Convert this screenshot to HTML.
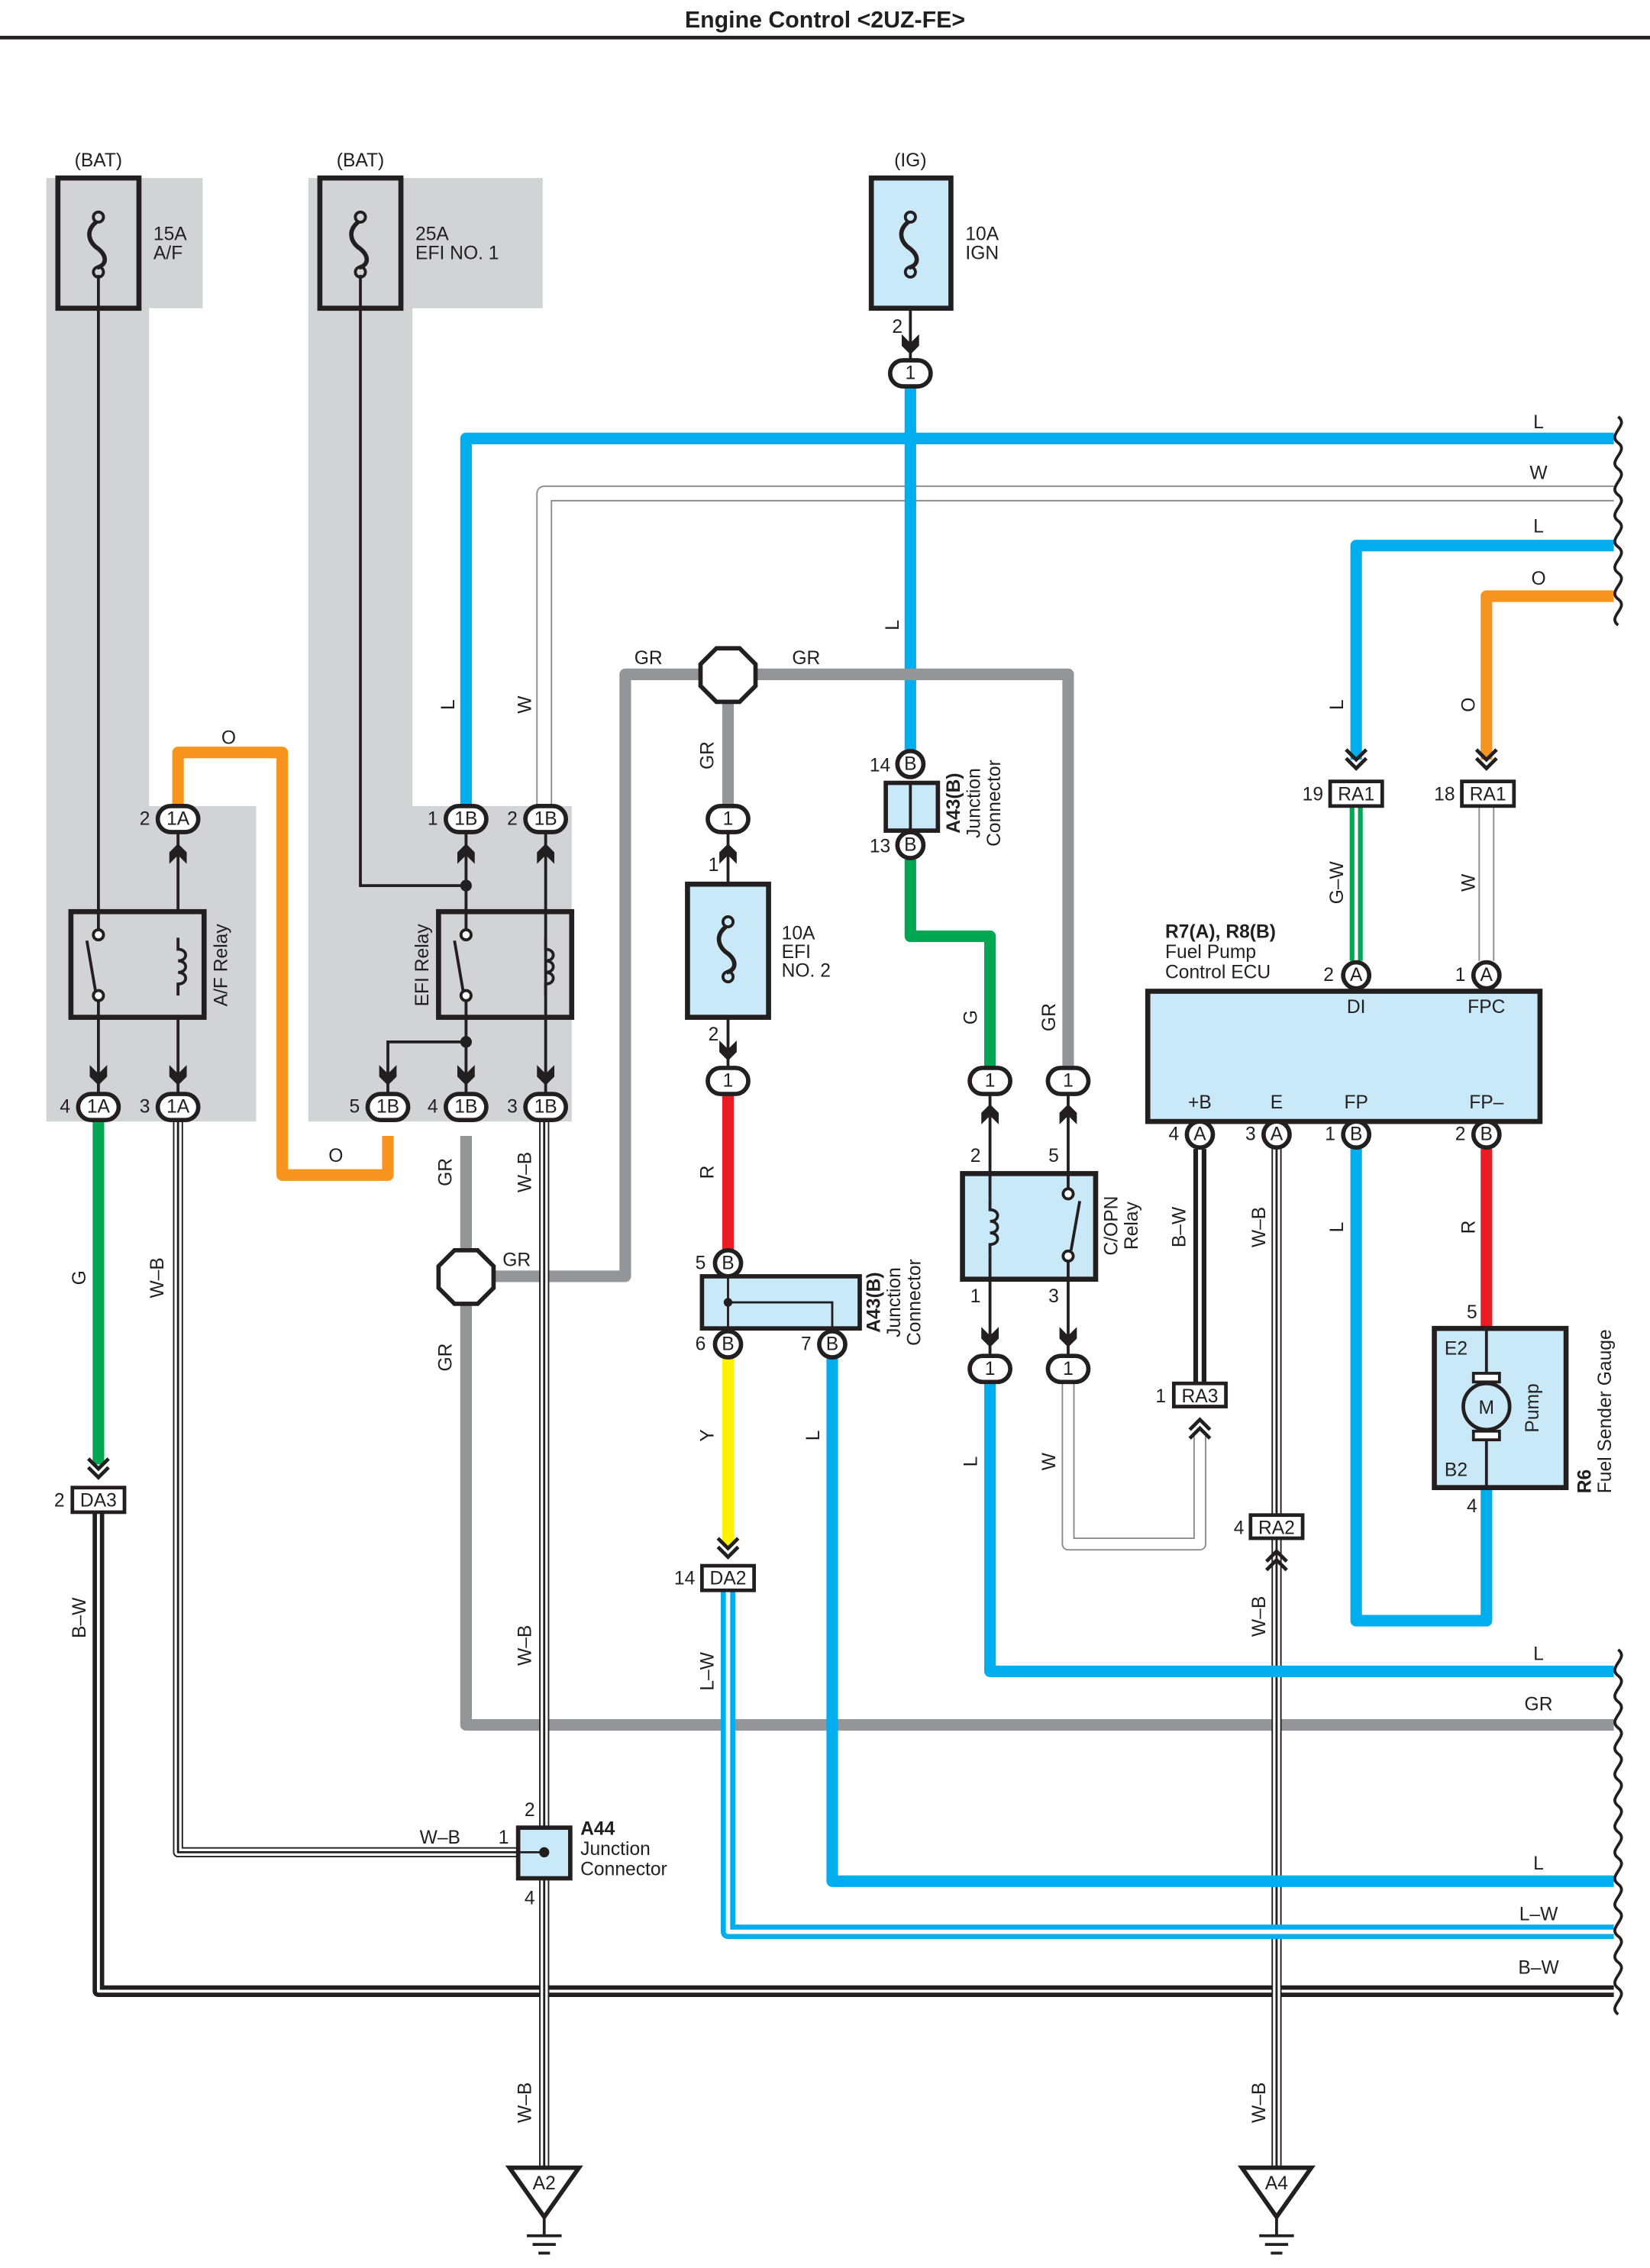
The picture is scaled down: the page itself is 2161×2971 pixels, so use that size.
<!DOCTYPE html>
<html><head><meta charset="utf-8"><style>
html,body{margin:0;padding:0;background:#fff}
svg{display:block}
text{font-family:"Liberation Sans",sans-serif;font-size:13px;fill:#231f20}
.b{font-weight:bold}
.c{text-anchor:middle}
.wire{fill:none;stroke-linejoin:round}
</style></head><body>
<svg width="2161" height="2971" viewBox="0 0 1140 1567.3" xmlns="http://www.w3.org/2000/svg">
<defs>
<g id="cd"><path d="M-6,-11 L0,-5 L6,-11 L6,-3 L0,3 L-6,-3Z" fill="#231f20"/></g>
<g id="cu"><path d="M-6,11 L0,5 L6,11 L6,3 L0,-3 L-6,3Z" fill="#231f20"/></g>
<g id="dd"><path d="M-7,-12 L0,-5 L7,-12 M-7,-6 L0,1 L7,-6" fill="none" stroke="#231f20" stroke-width="2.5"/></g>
<g id="du"><path d="M-7,12 L0,5 L7,12 M-7,6 L0,-1 L7,6" fill="none" stroke="#231f20" stroke-width="2.5"/></g>
<g id="ov"><rect x="-14" y="-9" width="28" height="18" rx="9" fill="#fff" stroke="#231f20" stroke-width="3"/></g>
<g id="fuse"><circle cx="0" cy="-20" r="3.5" fill="none" stroke="#231f20" stroke-width="2"/><circle cx="0" cy="18" r="3.5" fill="none" stroke="#231f20" stroke-width="2"/><path d="M-1,-17 C-10,-10 -6,-2 0,2 C6,7 6,13 -1,15" fill="none" stroke="#231f20" stroke-width="3"/></g>
<g id="coil"><path d="M0,0 V8 c7,0 7,8 0,8 c7,0 7,8 0,8 c7,0 7,8 0,8 V40" fill="none" stroke="#231f20" stroke-width="2"/></g>
</defs>

<text x="570" y="19" class="b c" style="font-size:16px">Engine Control &lt;2UZ-FE&gt;</text>
<line x1="0" y1="26" x2="1140" y2="26" stroke="#231f20" stroke-width="2.5"/>

<path d="M32,123 H140 V213 H103 V557 H177 V775 H32Z" fill="#d1d3d4"/>
<path d="M213,123 H375 V213 H285 V557 H395 V775 H213Z" fill="#d1d3d4"/>

<path class="wire" d="M322,556 V303 H1115" stroke="#00aeef" stroke-width="8"/>
<path class="wire" d="M376,556 V341 H1115" stroke="#8a8c8e" stroke-width="11"/>
<path class="wire" d="M376,556 V341 H1115" stroke="#fff" stroke-width="9"/>
<path class="wire" d="M937,525 V377 H1115" stroke="#00aeef" stroke-width="8"/>
<path class="wire" d="M1027,525 V412 H1115" stroke="#f7941d" stroke-width="8"/>
<path class="wire" d="M629,268 V518" stroke="#00aeef" stroke-width="8"/>
<path class="wire" d="M123,556 V520 H195 V812 H268 V785" stroke="#f7941d" stroke-width="8"/>
<path class="wire" d="M322,785 V1192 H1115" stroke="#939598" stroke-width="8"/>
<path class="wire" d="M322,882 H432 V466 H738 V737" stroke="#939598" stroke-width="8"/>
<path class="wire" d="M503,466 V556" stroke="#939598" stroke-width="8"/>
<path class="wire" d="M68,775 V1012" stroke="#00a651" stroke-width="8"/>
<path class="wire" d="M68,1045 V1376 H1115" stroke="#231f20" stroke-width="8"/>
<path class="wire" d="M68,1045 V1376 H1115" stroke="#fff" stroke-width="2"/>
<g class="wire">
<path class="wire" d="M123,775 V1280 H358" stroke="#231f20" stroke-width="7"/>
<path class="wire" d="M123,775 V1280 H358" stroke="#fff" stroke-width="5"/>
<path class="wire" d="M123,775 V1280 H358" stroke="#231f20" stroke-width="1.5"/>
<path class="wire" d="M376,775 V1500" stroke="#231f20" stroke-width="7"/>
<path class="wire" d="M376,775 V1500" stroke="#fff" stroke-width="5"/>
<path class="wire" d="M376,775 V1500" stroke="#231f20" stroke-width="1.5"/>
<path class="wire" d="M882,794 V1500" stroke="#231f20" stroke-width="7"/>
<path class="wire" d="M882,794 V1500" stroke="#fff" stroke-width="5"/>
<path class="wire" d="M882,794 V1500" stroke="#231f20" stroke-width="1.5"/>
</g>
<path class="wire" d="M629,594 V647 H684 V737" stroke="#00a651" stroke-width="8"/>
<path class="wire" d="M503,757 V864" stroke="#ed1c24" stroke-width="8"/>
<path class="wire" d="M503,939 V1068" stroke="#fff200" stroke-width="8"/>
<path class="wire" d="M503,1099 V1335 H1115" stroke="#00aeef" stroke-width="10"/>
<path class="wire" d="M503,1099 V1335 H1115" stroke="#fff" stroke-width="3"/>
<path class="wire" d="M575,939 V1300 H1115" stroke="#00aeef" stroke-width="8"/>
<path class="wire" d="M684,956 V1155 H1115" stroke="#00aeef" stroke-width="8"/>
<path class="wire" d="M738,956 V1067 H829 V990" stroke="#8a8c8e" stroke-width="9"/>
<path class="wire" d="M738,956 V1067 H829 V990" stroke="#fff" stroke-width="7"/>
<path class="wire" d="M829,794 V956" stroke="#231f20" stroke-width="9"/>
<path class="wire" d="M829,794 V956" stroke="#fff" stroke-width="2.5"/>
<path class="wire" d="M937,557 V664" stroke="#00a651" stroke-width="9"/>
<path class="wire" d="M937,557 V664" stroke="#fff" stroke-width="2.5"/>
<path class="wire" d="M1027,557 V664" stroke="#8a8c8e" stroke-width="11"/>
<path class="wire" d="M1027,557 V664" stroke="#fff" stroke-width="9"/>
<path class="wire" d="M937,794 V1120 H1027 V1028" stroke="#00aeef" stroke-width="8"/>
<path class="wire" d="M1027,794 V918" stroke="#ed1c24" stroke-width="8"/>

<g stroke="#231f20" stroke-width="2" fill="none">
<path d="M68,190 V643 M68,688 V755"/>
<path d="M123,576 V630 M123,703 V755"/>
<path d="M249,190 V612 H322 M322,576 V643 M322,688 V755 M322,720 H268 V755 M377,576 V755"/>
<path d="M629,190 V248"/>
<path d="M503,576 V611 M503,703 V737"/>
<path d="M684,757 V811 M684,884 V936 M738,757 V811 M738,884 V936"/>
</g>
<circle cx="322" cy="612" r="4" fill="#231f20"/>
<circle cx="322" cy="720" r="4" fill="#231f20"/>

<rect x="40" y="123" width="56" height="90" fill="none" stroke="#231f20" stroke-width="3.5"/>
<use href="#fuse" x="68" y="170"/>
<text x="68" y="115" class="c">(BAT)</text>
<text x="106" y="166">15A</text><text x="106" y="179">A/F</text>
<rect x="221" y="123" width="56" height="90" fill="none" stroke="#231f20" stroke-width="3.5"/>
<use href="#fuse" x="249" y="170"/>
<text x="249" y="115" class="c">(BAT)</text>
<text x="287" y="166">25A</text><text x="287" y="179">EFI NO. 1</text>
<rect x="602" y="123" width="55" height="90" fill="#c9e8f8" stroke="#231f20" stroke-width="3.5"/>
<use href="#fuse" x="629" y="170"/>
<text x="629" y="115" class="c">(IG)</text>
<text x="667" y="166">10A</text><text x="667" y="179">IGN</text>
<rect x="475" y="611" width="56" height="92" fill="#c9e8f8" stroke="#231f20" stroke-width="3.5"/>
<use href="#fuse" x="503" y="657"/>
<text x="540" y="649">10A</text><text x="540" y="662">EFI</text><text x="540" y="675">NO. 2</text>

<rect x="49" y="630" width="92" height="73" fill="none" stroke="#231f20" stroke-width="3.5"/>
<circle cx="68" cy="646" r="3.5" fill="#fff" stroke="#231f20" stroke-width="2"/>
<circle cx="68" cy="688" r="3.5" fill="#fff" stroke="#231f20" stroke-width="2"/>
<line x1="60" y1="650" x2="66" y2="685" stroke="#231f20" stroke-width="2"/>
<use href="#coil" x="123" y="648"/>
<text transform="translate(157,667) rotate(-90)" class="c">A/F Relay</text>
<rect x="303" y="630" width="92" height="73" fill="none" stroke="#231f20" stroke-width="3.5"/>
<circle cx="322" cy="646" r="3.5" fill="#fff" stroke="#231f20" stroke-width="2"/>
<circle cx="322" cy="688" r="3.5" fill="#fff" stroke="#231f20" stroke-width="2"/>
<line x1="314" y1="650" x2="320" y2="685" stroke="#231f20" stroke-width="2"/>
<use href="#coil" x="377" y="648"/>
<text transform="translate(296,667) rotate(-90)" class="c">EFI Relay</text>
<rect x="665" y="811" width="92" height="73" fill="#c9e8f8" stroke="#231f20" stroke-width="3.5"/>
<use href="#coil" x="684" y="828"/>
<circle cx="738" cy="825" r="3.5" fill="#fff" stroke="#231f20" stroke-width="2"/>
<circle cx="738" cy="868" r="3.5" fill="#fff" stroke="#231f20" stroke-width="2"/>
<line x1="746" y1="830" x2="740" y2="864" stroke="#231f20" stroke-width="2"/>
<line x1="684" y1="811" x2="684" y2="828" stroke="#231f20" stroke-width="2"/>
<line x1="684" y1="868" x2="684" y2="884" stroke="#231f20" stroke-width="2"/>
<line x1="738" y1="811" x2="738" y2="821" stroke="#231f20" stroke-width="2"/>
<line x1="738" y1="872" x2="738" y2="884" stroke="#231f20" stroke-width="2"/>
<text transform="translate(772,847) rotate(-90)" class="c">C/OPN</text>
<text transform="translate(786,847) rotate(-90)" class="c">Relay</text>

<use href="#cu" x="123" y="586"/>
<use href="#cd" x="68" y="747"/><use href="#cd" x="123" y="747"/>
<use href="#cu" x="322" y="586"/><use href="#cu" x="377" y="586"/>
<use href="#cd" x="268" y="747"/><use href="#cd" x="322" y="747"/><use href="#cd" x="377" y="747"/>
<use href="#cd" x="629" y="242"/>
<use href="#cu" x="503" y="586"/><use href="#cd" x="503" y="730"/>
<use href="#cu" x="684" y="766"/><use href="#cu" x="738" y="766"/>
<use href="#cd" x="684" y="928"/><use href="#cd" x="738" y="928"/>
<use href="#dd" x="68" y="1020"/>
<use href="#dd" x="503" y="1075"/>
<use href="#dd" x="937" y="530"/><use href="#dd" x="1027" y="530"/>
<use href="#du" x="829" y="982"/>
<use href="#du" x="882" y="1073"/>

<g>
<use href="#ov" x="123" y="566"/><text x="123" y="570" class="c">1A</text><text x="100" y="570" class="c">2</text>
<use href="#ov" x="68" y="765"/><text x="68" y="769" class="c">1A</text><text x="45" y="769" class="c">4</text>
<use href="#ov" x="123" y="765"/><text x="123" y="769" class="c">1A</text><text x="100" y="769" class="c">3</text>
<use href="#ov" x="322" y="566"/><text x="322" y="570" class="c">1B</text><text x="299" y="570" class="c">1</text>
<use href="#ov" x="377" y="566"/><text x="377" y="570" class="c">1B</text><text x="354" y="570" class="c">2</text>
<use href="#ov" x="268" y="765"/><text x="268" y="769" class="c">1B</text><text x="245" y="769" class="c">5</text>
<use href="#ov" x="322" y="765"/><text x="322" y="769" class="c">1B</text><text x="299" y="769" class="c">4</text>
<use href="#ov" x="377" y="765"/><text x="377" y="769" class="c">1B</text><text x="354" y="769" class="c">3</text>
<use href="#ov" x="629" y="258"/><text x="629" y="262" class="c">1</text><text x="620" y="230" class="c">2</text>
<use href="#ov" x="503" y="566"/><text x="503" y="570" class="c">1</text><text x="493" y="602" class="c">1</text>
<use href="#ov" x="503" y="747"/><text x="503" y="751" class="c">1</text><text x="493" y="719" class="c">2</text>
<use href="#ov" x="684" y="747"/><text x="684" y="751" class="c">1</text>
<use href="#ov" x="738" y="747"/><text x="738" y="751" class="c">1</text>
<use href="#ov" x="684" y="946"/><text x="684" y="950" class="c">1</text>
<use href="#ov" x="738" y="946"/><text x="738" y="950" class="c">1</text>
</g>
<text x="674" y="803" class="c">2</text><text x="728" y="803" class="c">5</text>
<text x="674" y="900" class="c">1</text><text x="728" y="900" class="c">3</text>

<polygon points="495,448 511,448 522,459 522,474 511,485 495,485 484,474 484,459" fill="#fff" stroke="#231f20" stroke-width="3"/>
<polygon points="314,864 330,864 341,875 341,890 330,901 314,901 303,890 303,875" fill="#fff" stroke="#231f20" stroke-width="3"/>

<rect x="612" y="541" width="36" height="33" fill="#c9e8f8" stroke="#231f20" stroke-width="3"/>
<line x1="629" y1="541" x2="629" y2="574" stroke="#231f20" stroke-width="2"/>
<circle cx="629" cy="528" r="9" fill="#fff" stroke="#231f20" stroke-width="3"/><text x="629" y="532" class="c">B</text>
<circle cx="629" cy="584" r="9" fill="#fff" stroke="#231f20" stroke-width="3"/><text x="629" y="588" class="c">B</text>
<text x="608" y="533" class="c">14</text><text x="608" y="589" class="c">13</text>
<text transform="translate(663,555) rotate(-90)" class="b c">A43(B)</text>
<text transform="translate(677,555) rotate(-90)" class="c">Junction</text>
<text transform="translate(691,555) rotate(-90)" class="c">Connector</text>

<rect x="485" y="882" width="109" height="36" fill="#c9e8f8" stroke="#231f20" stroke-width="3"/>
<path d="M503,882 V918 M503,900 H575 V918" fill="none" stroke="#231f20" stroke-width="1.5"/>
<circle cx="503" cy="900" r="3" fill="#231f20"/>
<circle cx="503" cy="873" r="9" fill="#fff" stroke="#231f20" stroke-width="3"/><text x="503" y="877" class="c">B</text>
<circle cx="503" cy="929" r="9" fill="#fff" stroke="#231f20" stroke-width="3"/><text x="503" y="933" class="c">B</text>
<circle cx="575" cy="929" r="9" fill="#fff" stroke="#231f20" stroke-width="3"/><text x="575" y="933" class="c">B</text>
<text x="484" y="877" class="c">5</text><text x="484" y="933" class="c">6</text><text x="557" y="933" class="c">7</text>
<text transform="translate(608,900) rotate(-90)" class="b c">A43(B)</text>
<text transform="translate(622,900) rotate(-90)" class="c">Junction</text>
<text transform="translate(636,900) rotate(-90)" class="c">Connector</text>

<g fill="#fff" stroke="#231f20" stroke-width="2.5">
<rect x="50" y="1028" width="36" height="17"/>
<rect x="485" y="1082" width="36" height="17"/>
<rect x="919" y="540" width="36" height="17"/>
<rect x="1010" y="540" width="36" height="17"/>
<rect x="811" y="956" width="36" height="16"/>
<rect x="864" y="1047" width="36" height="16"/>
</g>
<text x="68" y="1041" class="c">DA3</text><text x="41" y="1041" class="c">2</text>
<text x="503" y="1095" class="c">DA2</text><text x="473" y="1095" class="c">14</text>
<text x="937" y="553" class="c">RA1</text><text x="907" y="553" class="c">19</text>
<text x="1028" y="553" class="c">RA1</text><text x="998" y="553" class="c">18</text>
<text x="829" y="969" class="c">RA3</text><text x="802" y="969" class="c">1</text>
<text x="882" y="1060" class="c">RA2</text><text x="856" y="1060" class="c">4</text>

<rect x="793" y="685" width="271" height="90" fill="#c9e8f8" stroke="#231f20" stroke-width="3.5"/>
<text x="805" y="648" class="b">R7(A), R8(B)</text>
<text x="805" y="662">Fuel Pump</text>
<text x="805" y="676">Control ECU</text>
<text x="937" y="700" class="c">DI</text><text x="1027" y="700" class="c">FPC</text>
<text x="829" y="766" class="c">+B</text><text x="882" y="766" class="c">E</text><text x="937" y="766" class="c">FP</text><text x="1027" y="766" class="c">FP–</text>
<g fill="#fff" stroke="#231f20" stroke-width="3">
<circle cx="937" cy="674" r="9"/><circle cx="1027" cy="674" r="9"/>
<circle cx="829" cy="784" r="9"/><circle cx="882" cy="784" r="9"/><circle cx="937" cy="784" r="9"/><circle cx="1027" cy="784" r="9"/>
</g>
<text x="937" y="678" class="c">A</text><text x="1027" y="678" class="c">A</text>
<text x="829" y="788" class="c">A</text><text x="882" y="788" class="c">A</text><text x="937" y="788" class="c">B</text><text x="1027" y="788" class="c">B</text>
<text x="918" y="678" class="c">2</text><text x="1009" y="678" class="c">1</text>
<text x="811" y="788" class="c">4</text><text x="864" y="788" class="c">3</text><text x="919" y="788" class="c">1</text><text x="1009" y="788" class="c">2</text>

<rect x="991" y="918" width="91" height="110" fill="#c9e8f8" stroke="#231f20" stroke-width="3.5"/>
<path d="M1027,918 V952 M1027,992 V1028" stroke="#231f20" stroke-width="2"/>
<rect x="1018" y="949" width="18" height="6" fill="#fff" stroke="#231f20" stroke-width="2"/>
<rect x="1018" y="989" width="18" height="6" fill="#fff" stroke="#231f20" stroke-width="2"/>
<circle cx="1027" cy="972" r="16" fill="#c9e8f8" stroke="#231f20" stroke-width="2.5"/>
<text x="1027" y="977" class="c">M</text>
<text x="1006" y="936" class="c">E2</text><text x="1006" y="1020" class="c">B2</text>
<text transform="translate(1063,973) rotate(-90)" class="c">Pump</text>
<text transform="translate(1099,1032) rotate(-90)" class="b">R6</text>
<text transform="translate(1113,1032) rotate(-90)">Fuel Sender Gauge</text>
<text x="1017" y="911" class="c">5</text><text x="1017" y="1045" class="c">4</text>

<rect x="358" y="1263" width="36" height="35" fill="#c9e8f8" stroke="#231f20" stroke-width="3"/>
<circle cx="376" cy="1280" r="3.5" fill="#231f20"/>
<line x1="358" y1="1280" x2="376" y2="1280" stroke="#231f20" stroke-width="1.5"/>
<text x="401" y="1268" class="b">A44</text><text x="401" y="1282">Junction</text><text x="401" y="1296">Connector</text>
<text x="366" y="1255" class="c">2</text><text x="348" y="1274" class="c">1</text><text x="366" y="1316" class="c">4</text>
<text x="304" y="1274" class="c">W–B</text>

<g stroke="#231f20" stroke-width="3" fill="#fff">
<polygon points="352,1498 400,1498 376,1532"/>
<polygon points="858,1498 906,1498 882,1532"/>
</g>
<g stroke="#231f20" stroke-width="2">
<path d="M376,1532 V1545 M364,1545 H388 M368,1551 H384 M372,1557 H380"/>
<path d="M882,1532 V1545 M870,1545 H894 M874,1551 H890 M878,1557 H886"/>
</g>
<text x="376" y="1513" class="c">A2</text><text x="882" y="1513" class="c">A4</text>

<g fill="none" stroke="#231f20" stroke-width="2">
<path d="M1118,288 c8,6 -8,12 0,18 c8,6 -8,12 0,18 c8,6 -8,12 0,18 c8,6 -8,12 0,18 c8,6 -8,12 0,18 c8,6 -8,12 0,18 c8,6 -8,12 0,18 c8,6 -8,12 0,18"/>
<path d="M1118,1140 c8,6 -8,12 0,18 c8,6 -8,12 0,18 c8,6 -8,12 0,18 c8,6 -8,12 0,18 c8,6 -8,12 0,18 c8,6 -8,12 0,18 c8,6 -8,12 0,18 c8,6 -8,12 0,18 c8,6 -8,12 0,18 c8,6 -8,12 0,18 c8,6 -8,12 0,18 c8,6 -8,12 0,18 c8,6 -8,12 0,18 c8,6 -8,12 0,18"/>
</g>

<text x="1063" y="296" class="c">L</text>
<text x="1063" y="331" class="c">W</text>
<text x="1063" y="368" class="c">L</text>
<text x="1063" y="404" class="c">O</text>
<text x="158" y="514" class="c">O</text>
<text x="232" y="803" class="c">O</text>
<text x="448" y="459" class="c">GR</text>
<text x="557" y="459" class="c">GR</text>
<text x="357" y="875" class="c">GR</text>
<text x="1063" y="1147" class="c">L</text>
<text x="1063" y="1182" class="c">GR</text>
<text x="1063" y="1292" class="c">L</text>
<text x="1063" y="1327" class="c">L–W</text>
<text x="1063" y="1364" class="c">B–W</text>
<g>
<text transform="translate(314,487) rotate(-90)" class="c">L</text>
<text transform="translate(367,487) rotate(-90)" class="c">W</text>
<text transform="translate(493,522) rotate(-90)" class="c">GR</text>
<text transform="translate(621,432) rotate(-90)" class="c">L</text>
<text transform="translate(928,487) rotate(-90)" class="c">L</text>
<text transform="translate(1019,487) rotate(-90)" class="c">O</text>
<text transform="translate(928,610) rotate(-90)" class="c">G–W</text>
<text transform="translate(1019,610) rotate(-90)" class="c">W</text>
<text transform="translate(675,703) rotate(-90)" class="c">G</text>
<text transform="translate(729,703) rotate(-90)" class="c">GR</text>
<text transform="translate(312,810) rotate(-90)" class="c">GR</text>
<text transform="translate(367,810) rotate(-90)" class="c">W–B</text>
<text transform="translate(312,938) rotate(-90)" class="c">GR</text>
<text transform="translate(493,810) rotate(-90)" class="c">R</text>
<text transform="translate(59,883) rotate(-90)" class="c">G</text>
<text transform="translate(113,883) rotate(-90)" class="c">W–B</text>
<text transform="translate(493,992) rotate(-90)" class="c">Y</text>
<text transform="translate(566,992) rotate(-90)" class="c">L</text>
<text transform="translate(675,1010) rotate(-90)" class="c">L</text>
<text transform="translate(729,1010) rotate(-90)" class="c">W</text>
<text transform="translate(819,848) rotate(-90)" class="c">B–W</text>
<text transform="translate(874,848) rotate(-90)" class="c">W–B</text>
<text transform="translate(928,848) rotate(-90)" class="c">L</text>
<text transform="translate(1019,848) rotate(-90)" class="c">R</text>
<text transform="translate(59,1118) rotate(-90)" class="c">B–W</text>
<text transform="translate(493,1155) rotate(-90)" class="c">L–W</text>
<text transform="translate(367,1137) rotate(-90)" class="c">W–B</text>
<text transform="translate(874,1117) rotate(-90)" class="c">W–B</text>
<text transform="translate(367,1453) rotate(-90)" class="c">W–B</text>
<text transform="translate(874,1453) rotate(-90)" class="c">W–B</text>
</g>
</svg>
</body></html>
